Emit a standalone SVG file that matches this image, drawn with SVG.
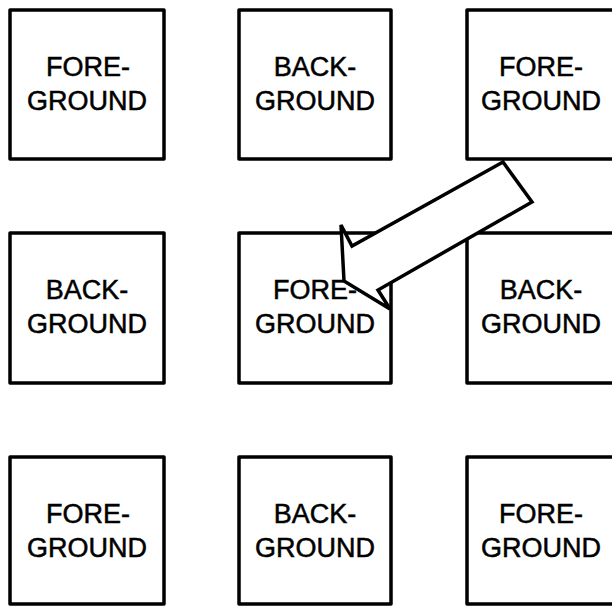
<svg xmlns="http://www.w3.org/2000/svg" width="612" height="606" viewBox="0 0 612 606">
<style>
.box{fill:#fff;stroke:#000;stroke-width:3.5;stroke-linejoin:round}
.t{font-family:"Liberation Sans",Arial,sans-serif;font-size:27px;fill:#000;stroke:#000;stroke-width:0.5;text-anchor:middle}
.arrow{fill:#fff;stroke:#000;stroke-width:3.5;stroke-linejoin:miter}
</style>
<rect width="612" height="606" fill="#fff"/>
<g id="n11"><rect class="box" x="10" y="10" width="154" height="149"/><text class="t" x="88" y="76">FORE-</text><text class="t" x="87" y="110">GROUND</text></g>
<g id="n12"><rect class="box" x="239" y="10" width="152" height="149"/><text class="t" x="315" y="76">BACK-</text><text class="t" x="315" y="110">GROUND</text></g>
<g id="n13"><rect class="box" x="467" y="10" width="150" height="149"/><text class="t" x="541" y="76">FORE-</text><text class="t" x="541" y="110">GROUND</text></g>
<g id="n21"><rect class="box" x="10" y="233" width="154" height="150"/><text class="t" x="87" y="299">BACK-</text><text class="t" x="87" y="333">GROUND</text></g>
<g id="n22"><rect class="box" x="239" y="233" width="152" height="150"/><text class="t" x="315" y="299">FORE-</text><text class="t" x="315" y="333">GROUND</text></g>
<g id="n23"><rect class="box" x="467" y="233" width="150" height="150"/><text class="t" x="541" y="299">BACK-</text><text class="t" x="541" y="333">GROUND</text></g>
<g id="n31"><rect class="box" x="10" y="457" width="154" height="147"/><text class="t" x="88" y="523">FORE-</text><text class="t" x="87" y="557">GROUND</text></g>
<g id="n32"><rect class="box" x="239" y="457" width="152" height="147"/><text class="t" x="315" y="523">BACK-</text><text class="t" x="315" y="557">GROUND</text></g>
<g id="n33"><rect class="box" x="467" y="457" width="150" height="147"/><text class="t" x="541" y="523">FORE-</text><text class="t" x="541" y="557">GROUND</text></g>
<g id="connectors">
<polygon class="arrow" points="503,162 532,202 378,290 390,309 344,281 341,225 352,246"/>
</g>
</svg>
